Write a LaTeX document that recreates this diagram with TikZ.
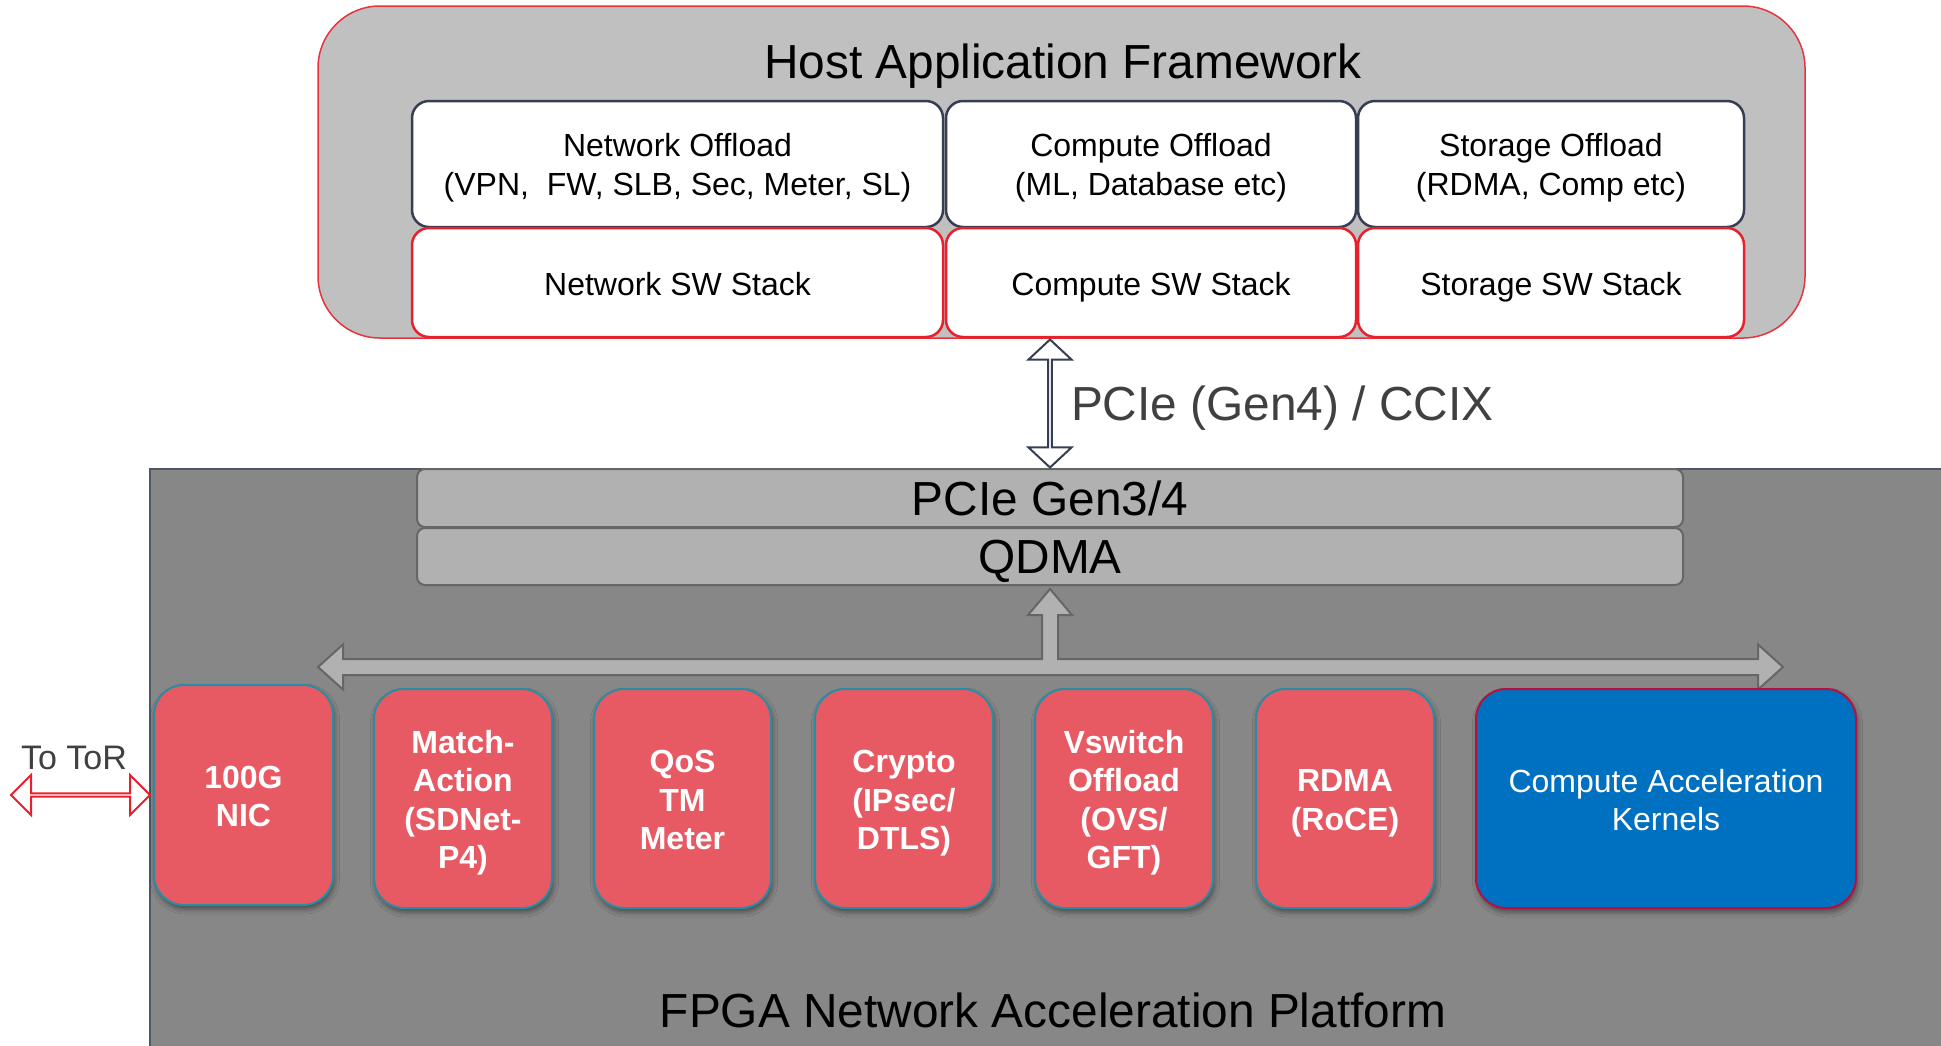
\documentclass[tikz,border=0pt]{standalone}
\usepackage{fontspec}
\setmainfont{Liberation Sans}
\usetikzlibrary{shapes.arrows,shadows.blur,calc}

\definecolor{hostgray}{HTML}{C0C0C0}
\definecolor{hostred}{HTML}{E8333C}
\definecolor{navy}{HTML}{363E52}
\definecolor{stackred}{HTML}{E8202C}
\definecolor{fpgagray}{HTML}{878787}
\definecolor{fpgaedge}{HTML}{4E5566}
\definecolor{bargray}{HTML}{B1B1B1}
\definecolor{baredge}{HTML}{666666}
\definecolor{ipred}{HTML}{E85A63}
\definecolor{ipedge}{HTML}{2A8CA3}
\definecolor{kblue}{HTML}{0070C0}
\definecolor{kedge}{HTML}{B8103E}
\definecolor{labelgray}{HTML}{404040}

% centred multi-line text whose baseline is its first line
\newcommand{\blocktext}[1]{\begin{tabular}[t]{@{}c@{}}#1\end{tabular}}

\tikzset{
  every node/.style={inner sep=0pt, outer sep=0pt},
  hostframe/.style={rectangle, rounded corners=62pt, fill=hostgray, draw=hostred, line width=1.5pt},
  offbox/.style={rectangle, rounded corners=17pt, fill=white, draw=navy, line width=2.5pt,
    font=\fontsize{32}{39}\selectfont, text height=36.6pt},
  stackbox/.style={rectangle, rounded corners=17pt, fill=white, draw=stackred, line width=2.5pt,
    font=\fontsize{32}{39}\selectfont, text height=25pt, text depth=0pt},
  barbox/.style={rectangle, rounded corners=8pt, fill=bargray, draw=baredge, line width=2pt,
    minimum width=1266pt, font=\fontsize{47.8}{56}\selectfont, text height=34pt, text depth=0pt},
  ipblock/.style={rectangle, rounded corners=30pt, fill=ipred, draw=ipedge, line width=2pt,
    text=white, font=\fontsize{32}{38.5}\selectfont\bfseries, text height=36.6pt,
    minimum height=219pt,
    blur shadow={shadow xshift=1.5pt, shadow yshift=-4pt, shadow blur radius=5pt, shadow opacity=45}},
  kernelblock/.style={ipblock, fill=kblue, draw=kedge, font=\fontsize{32}{38}\selectfont},
  bigtext/.style={font=\fontsize{47.8}{56}\selectfont},
  linkarrow/.style={double arrow, double arrow head extend=11pt, fill=white, line width=2pt},
}

\begin{document}
\begin{tikzpicture}[x=1pt,y=-1pt]
\useasboundingbox (0,0) rectangle (1941,1045);
\fill[white] (0,0) rectangle (1941,1045);

% FPGA platform area
\fill[fpgagray] (150,469) rectangle (1960,1060);
\draw[fpgaedge, line width=2pt] (150,1060) -- (150,469) -- (1960,469);
\node[bigtext, anchor=base] (fpgatitle) at (1053,1027) {FPGA Network Acceleration Platform};

% Host application framework
\node[hostframe, minimum width=1487pt, minimum height=332pt] (host) at (1061.5,172) {};
\node[bigtext, anchor=base] (hosttitle) at (1063,78) {Host Application Framework};

\node[offbox, minimum width=531pt, minimum height=126pt] (netoff) at (677.5,164)
  {\blocktext{Network Offload\\(VPN,\ \ FW, SLB, Sec, Meter, SL)}};
\node[offbox, minimum width=410pt, minimum height=126pt] (cmpoff) at (1151,164)
  {\blocktext{Compute Offload\\(ML, Database etc)}};
\node[offbox, minimum width=386pt, minimum height=126pt] (stoff) at (1551,164)
  {\blocktext{Storage Offload\\(RDMA, Comp etc)}};

\node[stackbox, minimum width=531pt, minimum height=109pt] (netstack) at (677.5,282.5) {Network SW Stack};
\node[stackbox, minimum width=410pt, minimum height=109pt] (cmpstack) at (1151,282.5) {Compute SW Stack};
\node[stackbox, minimum width=386pt, minimum height=109pt] (ststack) at (1551,282.5) {Storage SW Stack};

% PCIe and DMA bars
\node[barbox, minimum height=58pt] (pcie) at (1050,498) {PCIe Gen3/4};
\node[barbox, minimum height=57pt] (qdma) at (1050,556.5) {QDMA};

% host <-> card link
\coordinate (hostfoot) at (pcie.north |- host.south);
\node[linkarrow, draw=navy, rotate=90, double arrow tip angle=94,
      minimum height=128pt, minimum width=43pt] (pcielink) at ($(hostfoot)!.5!(pcie.north)$) {};
\node[bigtext, text=labelgray, anchor=base west] (pcielabel) at (1071,420) {PCIe (Gen4) / CCIX};

% internal bus
\draw[fill=bargray, draw=baredge, line width=2pt, line join=miter]
  (318,667) -- (343,644.5) -- (343,659) -- (1042,659) -- (1042,615) -- (1028,615)
  -- (1050,589) -- (1072,615) -- (1058,615) -- (1058,659) -- (1758,659)
  -- (1758,644.5) -- (1783,667) -- (1758,689.5) -- (1758,675) -- (343,675)
  -- (343,689.5) -- cycle;

% acceleration blocks
\node[ipblock, minimum width=179pt, minimum height=220pt] (nic) at (243.5,795) {\blocktext{100G\\NIC}};
\node[ipblock, minimum width=178pt] (match) at (463,798.5) {\blocktext{Match-\\Action\\(SDNet-\\P4)}};
\node[ipblock, minimum width=177pt] (qos) at (682.5,798.5) {\blocktext{QoS\\TM\\Meter}};
\node[ipblock, minimum width=178pt] (crypto) at (904,798.5) {\blocktext{Crypto\\(IPsec/\\DTLS)}};
\node[ipblock, minimum width=178pt] (vswitch) at (1124,798.5) {\blocktext{Vswitch\\Offload\\(OVS/\\GFT)}};
\node[ipblock, minimum width=178pt] (rdma) at (1345,798.5) {\blocktext{RDMA\\(RoCE)}};
\node[kernelblock, minimum width=380pt] (kernels) at (1666,798.5) {\blocktext{Compute Acceleration\\Kernels}};

% uplink to top-of-rack switch
\node[linkarrow, draw=stackred, double arrow tip angle=90,
      minimum height=139pt, minimum width=40pt] (torlink) at ($(nic.west)+(-73.5,0)$) {};
\node[font=\fontsize{34}{40}\selectfont, text=labelgray, anchor=base] (torlabel) at (74,769) {To ToR};
\end{tikzpicture}
\end{document}
